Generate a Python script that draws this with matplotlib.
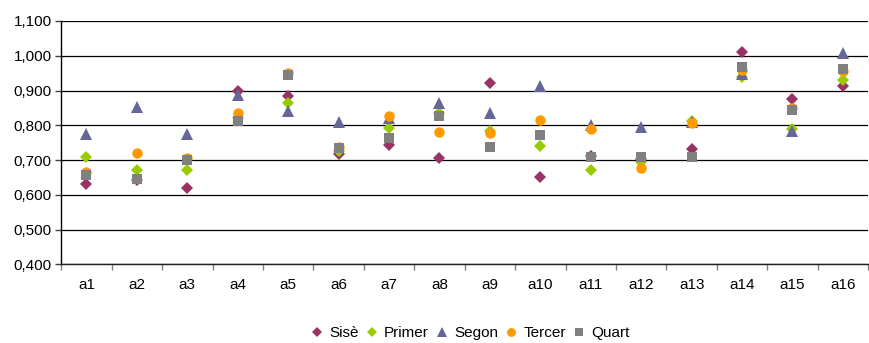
import matplotlib
matplotlib.use("Agg")
import matplotlib.pyplot as plt
import numpy as np

plt.rcParams['font.family'] = ['Liberation Sans', 'DejaVu Sans']

categories = ["a1", "a2", "a3", "a4", "a5", "a6", "a7", "a8",
              "a9", "a10", "a11", "a12", "a13", "a14", "a15", "a16"]

sise   = [0.630, 0.642, 0.620, 0.899, 0.885, 0.717, 0.743, 0.705,
          0.923, 0.650, 0.711, 0.702, 0.732, 1.012, 0.876, 0.913]
primer = [0.710, 0.672, 0.670, 0.820, 0.863, 0.727, 0.791, 0.834,
          0.784, 0.740, 0.670, 0.695, 0.813, 0.938, 0.788, 0.930]
segon  = [0.775, 0.853, 0.774, 0.887, 0.841, 0.810, 0.820, 0.863,
          0.836, 0.913, 0.801, 0.794, 0.810, 0.948, 0.784, 1.007]
tercer = [0.665, 0.721, 0.707, 0.836, 0.950, 0.738, 0.827, 0.781,
          0.777, 0.814, 0.789, 0.678, 0.806, 0.959, 0.849, 0.957]
quart  = [0.658, 0.645, 0.699, 0.813, 0.946, 0.734, 0.764, 0.827,
          0.738, 0.772, 0.709, 0.709, 0.709, 0.968, 0.844, 0.963]

yticks = [0.4, 0.5, 0.6, 0.7, 0.8, 0.9, 1.0, 1.1]
ytick_labels = ["0,400", "0,500", "0,600", "0,700", "0,800", "0,900", "1,000", "1,100"]

series = [
    ("Sisè",   sise,   "D", "#993366", 6.0),
    ("Primer", primer, "D", "#99CC00", 6.0),
    ("Segon",  segon,  "^", "#666699", 8.0),
    ("Tercer", tercer, "o", "#FF9900", 7.5),
    ("Quart",  quart,  "s", "#808080", 7.0),
]

fig = plt.figure(figsize=(8.69, 3.43), dpi=100)
ax = fig.add_axes([0.0705, 0.2294, 0.9285, 0.7094])

x = np.arange(len(categories))
handles = []
for name, vals, mk, col, ms in series:
    h, = ax.plot(x, vals, linestyle="none", marker=mk, color=col,
                 markersize=ms, markeredgewidth=0, label=name, zorder=3)
    handles.append(h)

ax.set_xlim(-0.5, len(categories) - 0.5)
ax.set_ylim(0.4, 1.1)
ax.set_yticks(yticks)
ax.set_yticklabels(ytick_labels, fontsize=11)
ax.set_xticks(x)
ax.set_xticklabels(categories, fontsize=11)
ax.tick_params(axis="x", length=0, pad=10)
ax.set_xticks(np.arange(len(categories) + 1) - 0.5, minor=True)
ax.tick_params(axis="x", which="minor", length=4, width=1, color="#808080", direction="out")
ax.tick_params(axis="y", length=4, width=1, color="#404040", direction="out", pad=3)

ax.yaxis.grid(True, color="#000000", linewidth=0.9)
ax.set_axisbelow(True)
for s in ["top", "right"]:
    ax.spines[s].set_visible(False)
ax.spines["left"].set_color("#000000")
ax.spines["left"].set_linewidth(1)
ax.spines["bottom"].set_color("#202020")
ax.spines["bottom"].set_linewidth(1)

fig.legend(handles=handles, loc="center", bbox_to_anchor=(0.541, 0.029),
           ncol=5, frameon=False, fontsize=11, handlelength=0.8,
           handletextpad=0.4, columnspacing=0.45, markerscale=0.85)

fig.savefig("out.png", dpi=100)
